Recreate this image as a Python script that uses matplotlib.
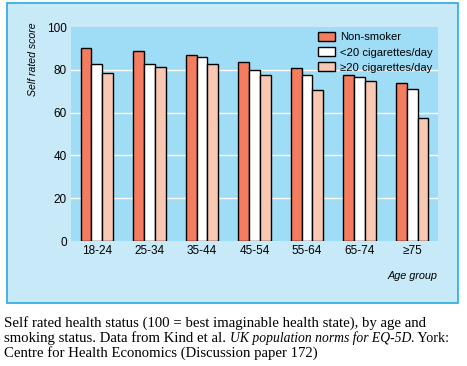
import numpy as np
import matplotlib.pyplot as plt
from matplotlib.patches import Rectangle

# Datos
groups = ['18-24', '25-34', '35-44', '45-54', '55-64', '65-74', '≥75']
non_smoker = [90, 89, 87, 83.5, 81, 77.5, 74]
under20 = [82.5, 82.5, 86, 80, 77.5, 76.5, 71]
over20 = [78.5, 81.5, 82.5, 77.5, 70.5, 75, 57.5]
series_names = ['Non-smoker', '<20 cigarettes/day', '≥20 cigarettes/day']
yticks = [0, 20, 40, 60, 80, 100]

colors = ['#f47c5f', '#ffffff', '#f9c8b3']
sans = ['Liberation Sans Narrow', 'Liberation Sans', 'DejaVu Sans']
serif = ['Liberation Serif', 'DejaVu Serif']
cap_size = 10.6

fig = plt.figure(figsize=(4.67, 3.66), dpi=100)

# Caja exterior azul
fig.patches.append(Rectangle((7/467, 1 - 303/366), 451/467, 300/366,
                             transform=fig.transFigure, facecolor='#c8e9f8',
                             edgecolor='#26aae2', linewidth=1.2, zorder=-5))

ax = fig.add_axes([71/467, 1 - 241/366, 367/467, 214/366])
ax.set_facecolor('#9fdcf6')

x = np.arange(len(groups))
w = 0.205
for i, vals in enumerate([non_smoker, under20, over20]):
    ax.bar(x + (i - 1) * w, vals, w, color=colors[i], edgecolor='black',
           linewidth=1.0, label=series_names[i], zorder=3)

ax.set_xlim(-0.49, 6.49)
ax.set_ylim(0, 100)
ax.set_yticks(yticks)
ax.set_yticklabels([str(v) for v in yticks], family=sans, fontsize=8.5)
ax.set_xticks(x)
ax.set_xticklabels(groups, family=sans, fontsize=8.5)
ax.tick_params(length=0, pad=3)
for s in ax.spines.values():
    s.set_visible(False)
for v in [20, 40, 60, 80]:
    ax.axhline(v, color='white', linewidth=1.0, zorder=1)

leg = ax.legend(loc='upper right', frameon=False, prop={'family': sans, 'size': 8.1},
                handlelength=1.55, handleheight=0.85, labelspacing=0.42,
                borderpad=0.2, borderaxespad=0.25, handletextpad=0.45)
leg.set_zorder(10)

fig.text(33/467, 1 - 22/366, 'Self rated score', rotation=90, ha='center', va='top',
         style='italic', family=sans, fontsize=7.6)
fig.text(437/467, 1 - 276/366, 'Age group', ha='right', va='center',
         style='italic', family=sans, fontsize=7.8)

# Pie de figura
fig.text(4/467, 1 - 323/366,
         'Self rated health status (100 = best imaginable health state), by age and',
         ha='left', va='center', family=serif, fontsize=cap_size)
t_a = fig.text(4/467, 1 - 338/366, 'smoking status. Data from Kind et al. ',
               ha='left', va='center', family=serif, fontsize=cap_size)
fig.text(4/467, 1 - 353/366, 'Centre for Health Economics (Discussion paper 172)',
         ha='left', va='center', family=serif, fontsize=cap_size)

# segunda linea en trozos (normal + cursiva + normal)
fig.canvas.draw()
r = fig.canvas.get_renderer()
bb = t_a.get_window_extent(r)
t_b = fig.text(bb.x1 / fig.bbox.width, 1 - 338/366, 'UK population norms for EQ-5D',
               ha='left', va='center', family=serif, style='italic', fontsize=cap_size - 0.8)
bb2 = t_b.get_window_extent(r)
fig.text(bb2.x1 / fig.bbox.width, 1 - 338/366, '. York:',
         ha='left', va='center', family=serif, fontsize=cap_size - 0.4)

fig.savefig('out.png', dpi=100)
